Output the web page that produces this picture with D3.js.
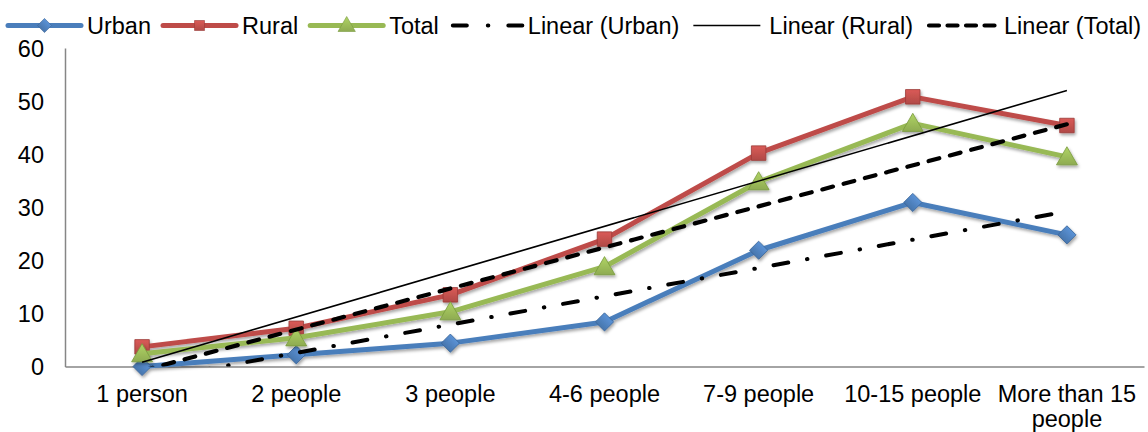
<!DOCTYPE html>
<html>
<head>
<meta charset="utf-8">
<script src="https://cdnjs.cloudflare.com/ajax/libs/d3/7.8.5/d3.min.js"></script>
<style>
  html, body { margin: 0; padding: 0; background: #fff; }
  svg { display: block; font-family: "Liberation Sans", Arial, sans-serif; }
</style>
</head>
<body>
<svg id="chart" width="1148" height="432"></svg>
<script>
// Household size categories
const categories = ["1 person", "2 people", "3 people", "4-6 people", "7-9 people", "10-15 people", "More than 15 people"];
// Percentages per household size
const urban = [0, 2.2, 4.4, 8.4, 21.9, 30.9, 24.8];
const rural = [3.7, 7.2, 13.5, 24.0, 40.2, 50.8, 45.4];
const total = [2.4, 5.4, 10.3, 18.8, 34.8, 45.8, 39.5];
const yTicks = [0, 10, 20, 30, 40, 50, 60];

const series = [
  { name: "Urban", values: urban, line: "#4A7EBB", fill: "#4F81BD", dark: "#3A6699", marker: "diamond" },
  { name: "Rural", values: rural, line: "#BE4B48", fill: "#C0504D", dark: "#9A3B38", marker: "square" },
  { name: "Total", values: total, line: "#98B954", fill: "#9BBB59", dark: "#789A3E", marker: "triangle" }
];
const trendStyles = [
  { name: "Linear (Urban)", width: 4, dash: "15,19,0.5,19", cap: "round", legendDash: "14,21,0.5,20" },
  { name: "Linear (Rural)", width: 1.6, dash: null, cap: "butt", legendDash: null },
  { name: "Linear (Total)", width: 4.2, dash: "11,11", cap: "round", legendDash: "10,8.5" }
];

const svg = d3.select("#chart");
const plotLeft = 65, plotRight = 1144, plotTop = 48, plotBottom = 366.5;

const x = d3.scaleBand().domain(categories).range([plotLeft, plotRight]);
const cx = c => x(c) + x.bandwidth() / 2;
const y = d3.scaleLinear().domain([0, 60]).range([plotBottom, plotTop]);

const defs = svg.append("defs");
const shadow = defs.append("filter").attr("id", "shadow")
  .attr("x", "-20%").attr("y", "-20%").attr("width", "140%").attr("height", "140%");
shadow.append("feDropShadow").attr("dx", 1.2).attr("dy", 2.2).attr("stdDeviation", 1.6)
  .attr("flood-color", "#000").attr("flood-opacity", 0.35);
defs.append("clipPath").attr("id", "plot")
  .append("rect").attr("x", plotLeft).attr("y", plotTop)
  .attr("width", plotRight - plotLeft).attr("height", plotBottom - plotTop);

series.forEach(s => {
  const g = defs.append("linearGradient").attr("id", "grad-" + s.name)
    .attr("x1", 0).attr("y1", 0).attr("x2", 0).attr("y2", 1);
  g.append("stop").attr("offset", "0%").attr("stop-color", d3.color(s.fill).brighter(0.35));
  g.append("stop").attr("offset", "100%").attr("stop-color", d3.color(s.fill).darker(0.25));
});

// Axes: plain grey lines, labels only
const yAxis = svg.append("g").attr("transform", `translate(${plotLeft},0)`)
  .call(d3.axisLeft(y).tickValues(yTicks).tickSize(0).tickPadding(21));
yAxis.select(".domain").attr("stroke", "#868686").attr("stroke-width", 1.5);
yAxis.selectAll("text").attr("font-size", "23.5px").attr("fill", "#000")
  .attr("font-family", "Liberation Sans, Arial, sans-serif").attr("dy", "0.36em");

const xAxis = svg.append("g").attr("transform", `translate(0,${plotBottom})`)
  .call(d3.axisBottom(x).tickSize(0).tickPadding(19));
xAxis.select(".domain").attr("stroke", "#868686").attr("stroke-width", 1.5);
xAxis.selectAll("text").attr("font-size", "23.5px").attr("fill", "#000")
  .attr("font-family", "Liberation Sans, Arial, sans-serif")
  .each(function(d) {
    const t = d3.select(this);
    if (d === "More than 15 people") {
      t.text(null);
      t.append("tspan").attr("x", 0).attr("dy", "0.71em").text("More than 15");
      t.append("tspan").attr("x", 0).attr("dy", "1.06em").text("people");
    }
  });

// Linear trendlines (least squares over category index 1..n)
function fit(vals) {
  const xs = vals.map((_, i) => i + 1);
  const mx = d3.mean(xs), my = d3.mean(vals);
  const sxy = d3.sum(xs, (xi, i) => (xi - mx) * (vals[i] - my));
  const sxx = d3.sum(xs, xi => (xi - mx) ** 2);
  const b = sxy / sxx, a = my - b * mx;
  return i => a + b * (i + 1);
}

const plot = svg.append("g");

// Data lines with markers (diamond = square turned 45 degrees)
const lineGen = d3.line().x((d, i) => cx(categories[i])).y(d => y(d));
const symbolOf = { diamond: d3.symbolSquare, square: d3.symbolSquare, triangle: d3.symbolTriangle };
const sizeOf = { diamond: 165, square: 210, triangle: 190 };
const markerTransform = (s, px, py) =>
  `translate(${px},${py + (s.marker === "triangle" ? 2 : 0)})` + (s.marker === "diamond" ? " rotate(45)" : "");

series.forEach(s => {
  const g = plot.append("g").attr("filter", "url(#shadow)");
  g.append("path").datum(s.values)
    .attr("d", lineGen).attr("fill", "none")
    .attr("stroke", s.line).attr("stroke-width", 5).attr("stroke-linejoin", "round");
  g.selectAll("path.m").data(s.values).join("path").attr("class", "m")
    .attr("transform", (d, i) => markerTransform(s, cx(categories[i]), y(d)))
    .attr("d", d3.symbol(symbolOf[s.marker], sizeOf[s.marker]))
    .attr("fill", `url(#grad-${s.name})`).attr("stroke", s.dark).attr("stroke-width", 0.8);
});

// Trendlines on top, clipped to the plot area
const trends = plot.append("g").attr("clip-path", "url(#plot)");
series.forEach((s, k) => {
  const f = fit(s.values);
  const st = trendStyles[k];
  const n = s.values.length;
  trends.append("line")
    .attr("x1", cx(categories[0])).attr("y1", y(f(0)))
    .attr("x2", cx(categories[n - 1])).attr("y2", y(f(n - 1)))
    .attr("stroke", "#000").attr("stroke-width", st.width)
    .attr("stroke-linecap", st.cap)
    .attr("stroke-dasharray", st.dash);
});

// Legend
const legend = svg.append("g");
const ly = 25.5, fontSize = "23.5px";
let lx = 8;
function legendText(label) {
  const t = legend.append("text").attr("x", lx).attr("y", ly + 8.5)
    .attr("font-size", fontSize).attr("fill", "#000").text(label);
  lx += t.node().getComputedTextLength();
}
series.forEach(s => {
  const len = 73;
  const g = legend.append("g");
  g.append("line").attr("x1", lx).attr("x2", lx + len).attr("y1", ly).attr("y2", ly)
    .attr("stroke", s.line).attr("stroke-width", 5).attr("stroke-linecap", "round");
  g.append("path")
    .attr("transform", `translate(${lx + len / 2},${ly + (s.marker === "triangle" ? 1 : 0)})` +
      (s.marker === "diamond" ? " rotate(45)" : ""))
    .attr("d", d3.symbol(symbolOf[s.marker], s.marker === "triangle" ? 130 : 100))
    .attr("fill", `url(#grad-${s.name})`).attr("stroke", s.dark).attr("stroke-width", 0.6);
  lx += len + 6;
  legendText(s.name);
  lx += 12;
});
trendStyles.forEach((st, k) => {
  const len = k === 1 ? 67 : 72;
  legend.append("line").attr("x1", lx + (st.cap === "round" ? 2 : 0)).attr("x2", lx + len)
    .attr("y1", ly).attr("y2", ly)
    .attr("stroke", "#000").attr("stroke-width", st.width)
    .attr("stroke-linecap", st.cap).attr("stroke-dasharray", st.legendDash);
  lx += len + (k === 1 ? 9 : 5);
  legendText(st.name);
  lx += 14;
});
</script>
</body>
</html>
